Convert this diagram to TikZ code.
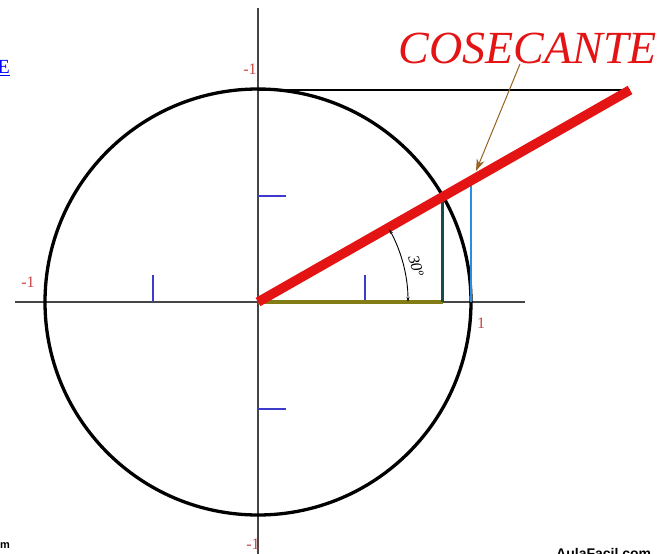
\documentclass[tikz,border=0pt]{standalone}
\usepackage{fontspec}
\setmainfont{Liberation Serif}
\newfontfamily\sansf{Liberation Sans}
\usetikzlibrary{arrows.meta}
\definecolor{cred}{RGB}{228,20,20}
\definecolor{colive}{RGB}{130,125,20}
\definecolor{cteal}{RGB}{25,75,75}
\definecolor{cblue}{RGB}{40,140,225}
\definecolor{ctick}{RGB}{60,60,200}
\definecolor{clab}{RGB}{200,70,70}
\definecolor{cbrown}{RGB}{150,100,30}
\definecolor{caxis}{RGB}{70,70,70}
\tikzset{
  axis/.style={draw=caxis, line width=1.2pt},
  tick/.style={draw=ctick, line width=1.2pt},
  lab/.style={text=clab, font=\fontsize{16}{16}\selectfont, inner sep=0pt},
}
\begin{document}
\begin{tikzpicture}[x=1pt,y=-1pt]
\useasboundingbox (0,0) rectangle (672,554);
\clip (0,0) rectangle (672,554);
\fill[white] (0,0) rectangle (672,554);
\coordinate (O) at (258,302);
\coordinate (Ytop) at (258,8);
\coordinate (Ybot) at (258,554);
\coordinate (Xl) at (15,302);
\coordinate (Xr) at (525,302);
\coordinate (T) at (258,90);
\coordinate (E) at (630,90);
\coordinate (Ered) at (630,90);
\coordinate (P) at (442.5,195.5);
\coordinate (Pf) at (442.5,302);
\coordinate (Q) at (471,302);
\coordinate (Qt) at (471,179);
% axes
\draw[axis] (Xl) -- (Xr);
\draw[axis] (Ytop) -- (Ybot);
% ticks
\coordinate (h1a) at (153,302); \coordinate (h1b) at (153,275);
\coordinate (h2a) at (365,302); \coordinate (h2b) at (365,275);
\coordinate (v1a) at (258,196); \coordinate (v1b) at (286,196);
\coordinate (v2a) at (258,409); \coordinate (v2b) at (286,409);
\draw[tick] (h1a) -- (h1b);
\draw[tick] (h2a) -- (h2b);
\draw[tick] (v1a) -- (v1b);
\draw[tick] (v2a) -- (v2b);
% circle
\draw[black, line width=3.3pt] (O) circle[radius=213];
% tangent top line
\draw[black, line width=1.4pt] (T) -- (E);
% segments
\draw[colive, line width=4pt] (O) -- (Pf);
\draw[cteal, line width=3pt] (Pf) -- (P);
\draw[cblue, line width=2.6pt] (Q) -- (Qt);
% red cosecant line
\draw[cred, line width=9.5pt] (O) -- (Ered);
% angle arc
\draw[black, line width=0.9pt, {Stealth[length=5pt,width=3pt]}-{Stealth[length=5pt,width=3pt]}] ([shift={(0:150)}]O) arc[start angle=0, end angle=-29, radius=150];
\node[rotate=-75, font=\fontsize{16}{16}\selectfont\itshape, inner sep=0pt] (ang) at (416,266) {30º};
% labels
\node[lab] (l1) at (250,69) {-1};
\node[lab] (l2) at (28,282) {-1};
\node[lab] (l3) at (481,323) {1};
\node[lab] (l4) at (253,544) {-1};
% title
\node[text=cred, font=\fontsize{46}{46}\selectfont\itshape, inner sep=0pt] (title) at (528,48) {COSECANTE};
\coordinate (arrs) at (520,64);
\coordinate (arre) at (476,171);
\draw[cbrown, line width=1pt, -{Stealth[length=12pt,width=8pt]}] (arrs) -- (arre);
% watermark fragments
\node[anchor=east, text=blue, font=\fontsize{20}{20}\selectfont, inner sep=0pt] (wl) at (10,68) {\underline{E}};
\node[anchor=east, font=\sansf\bfseries\fontsize{11}{11}\selectfont, inner sep=0pt] (wm) at (10,545) {www.aulafacil.com};
\node[anchor=north west, font=\sansf\bfseries\fontsize{14}{14}\selectfont, inner sep=0pt] (wr) at (556,548) {AulaFacil.com};
\end{tikzpicture}
\end{document}
